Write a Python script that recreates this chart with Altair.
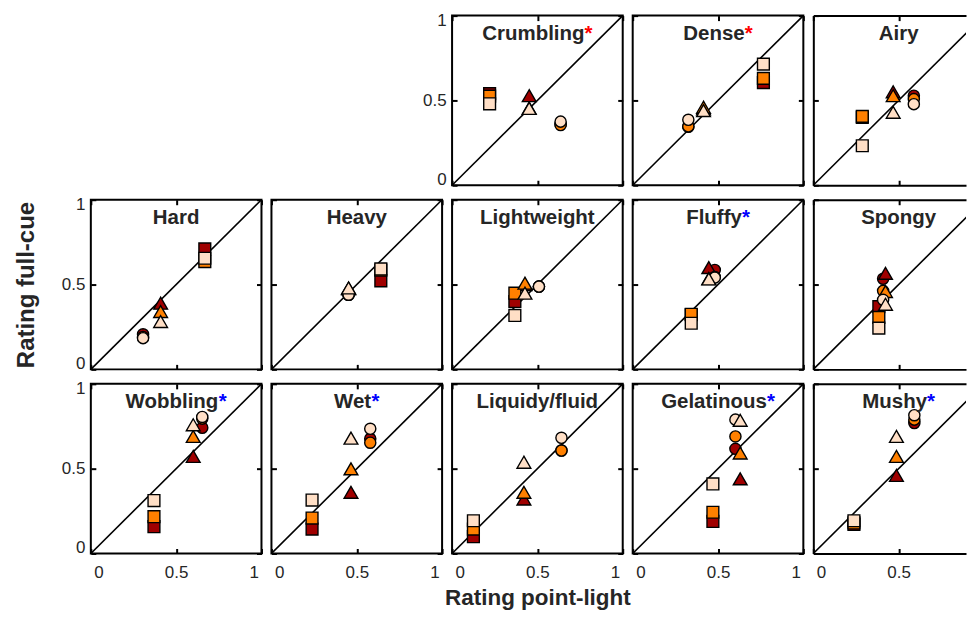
import altair as alt
import pandas as pd

# ---------------- data ----------------
panels = ["Crumbling", "Dense", "Airy", "Hard", "Heavy", "Lightweight", "Fluffy", "Spongy",
          "Wobbling", "Wet", "Liquidy/fluid", "Gelatinous", "Mushy"]
stars = ["red", "red", "", "", "", "", "blue", "", "blue", "blue", "", "blue", "blue"]

square_x = [0.22, 0.766, 0.287, 0.668, 0.641, 0.368, 0.343, 0.384, 0.37, 0.238, 0.125, 0.47, 0.238]
square_dark = [0.54, 0.605, 0.40, 0.71, 0.522, 0.40, 0.322, 0.37, 0.158, 0.144, 0.099, 0.189, 0.172]
square_orange = [0.525, 0.63, 0.406, 0.635, 0.585, 0.449, 0.325, 0.306, 0.217, 0.209, 0.144, 0.243, 0.18]
square_peach = [0.48, 0.714, 0.233, 0.655, 0.592, 0.318, 0.272, 0.243, 0.312, 0.315, 0.193, 0.41, 0.193]

circle_x = [0.636, 0.326, 0.589, 0.306, 0.452, 0.509, 0.481, 0.409, 0.653, 0.579, 0.641, 0.602, 0.592]
circle_dark = [0.36, 0.345, 0.528, 0.207, 0.44, 0.488, 0.586, 0.534, 0.741, 0.676, 0.607, 0.617, 0.769]
circle_orange = [0.355, 0.347, 0.508, 0.19, 0.44, 0.488, 0.545, 0.463, 0.795, 0.653, 0.607, 0.69, 0.789]
circle_peach = [0.375, 0.386, 0.478, 0.184, 0.44, 0.488, 0.541, 0.41, 0.805, 0.735, 0.682, 0.789, 0.815]

triangle_x = [0.452, 0.415, 0.468, 0.409, 0.452, 0.427, 0.446, 0.423, 0.60, 0.466, 0.421, 0.63, 0.487]
triangle_dark = [0.528, 0.45, 0.551, 0.39, 0.475, 0.50, 0.60, 0.566, 0.572, 0.361, 0.321, 0.44, 0.46]
triangle_orange = [0.455, 0.46, 0.528, 0.341, 0.478, 0.508, 0.535, 0.459, 0.69, 0.499, 0.361, 0.592, 0.572]
triangle_peach = [0.453, 0.44, 0.43, 0.282, 0.48, 0.449, 0.533, 0.384, 0.759, 0.68, 0.538, 0.785, 0.69]

cond_names = ["dark", "orange", "peach"]
cond_colors = ["#A00000", "#FF8000", "#FFDFC6"]
shape_names = ["square", "circle", "triangle"]
shape_symbols = ["square", "circle", "triangle-up"]
shape_sizes = [140, 125, 190]

diag_vals = [0, 1]
tick_vals = [0, 0.5, 1]
tick_vals_cut = [0, 0.5]

x_title = "Rating point-light"
y_title = "Rating full-cue"

# ---------------- tables ----------------
ys = {
    ("dark", "square"): square_dark, ("orange", "square"): square_orange, ("peach", "square"): square_peach,
    ("dark", "circle"): circle_dark, ("orange", "circle"): circle_orange, ("peach", "circle"): circle_peach,
    ("dark", "triangle"): triangle_dark, ("orange", "triangle"): triangle_orange, ("peach", "triangle"): triangle_peach,
}
xs = {"square": square_x, "circle": circle_x, "triangle": triangle_x}
rows = []
for i, p in enumerate(panels):
    for c in cond_names:
        for s in shape_names:
            rows.append({"panel": p, "cond": c, "shape": s, "px": xs[s][i], "py": ys[(c, s)][i]})
points_df = pd.DataFrame(rows)
diag_df = pd.DataFrame({"x": diag_vals, "y": diag_vals})
one_df = pd.DataFrame({"v": [0]})

W = 171
H = 170
W_CUT = 153          # last column is cut off by the page edge
FONT = "Liberation Sans"
TXT = "#262626"
TITLE_SIZE = 20.5

# Arial/Liberation bold advance widths (per 1000 em)
BW = {"A": 722, "C": 722, "D": 722, "F": 611, "G": 778, "H": 722, "L": 611, "M": 833, "S": 667, "W": 944,
      "a": 556, "b": 611, "c": 556, "d": 611, "e": 556, "f": 333, "g": 611, "h": 611, "i": 278, "k": 556,
      "l": 278, "m": 889, "n": 611, "o": 611, "p": 611, "q": 611, "r": 389, "s": 556, "t": 333, "u": 611,
      "v": 556, "w": 778, "y": 556, "/": 278, "*": 389, "-": 333}


def text_w(s, size):
    return sum(BW.get(ch, 600) for ch in s) * size / 1000.0


def tick_axis(orient, show_labels, title, values):
    kw = dict(orient=orient, values=values, format="~g", domain=False, grid=False,
              ticks=True, tickSize=5, tickWidth=2, tickColor="black", offset=-5,
              labels=show_labels, labelFont=FONT, labelFontSize=17, labelColor=TXT,
              labelFlush=True, titleFont=FONT, titleFontWeight="bold", titleColor=TXT)
    if orient in ("bottom", "top"):
        kw.update(labelPadding=11.5, labelFlushOffset=-3, titlePadding=6, titleFontSize=22.5)
    else:
        kw.update(labelPadding=6, labelFlushOffset=3, titlePadding=23, titleFontSize=24)
    kw["title"] = title if title else None
    return alt.Axis(**kw)


def frame_axis(orient):
    return alt.Axis(orient=orient, domain=True, domainColor="black", domainWidth=2, ticks=False,
                    labels=False, grid=False, title=None, offset=0)


def panel(i, show_x, show_y, xt="", yt="", cut=False):
    w = W_CUT if cut else W
    xmax = W_CUT / W if cut else 1
    xvals = tick_vals_cut if cut else tick_vals
    xs_ = alt.Scale(domain=[0, xmax], nice=False, zero=False)
    ys_ = alt.Scale(domain=[0, 1], nice=False, zero=False)
    diag = alt.Chart(diag_df).mark_line(color="black", strokeWidth=1.6, clip=True).encode(
        x=alt.X("x:Q", scale=xs_, axis=tick_axis("bottom", show_x, xt, xvals)),
        y=alt.Y("y:Q", scale=ys_, axis=tick_axis("left", show_y, yt, tick_vals)),
    )
    if cut:
        mirror = alt.Chart(diag_df).mark_line(opacity=0, clip=True).encode(
            x=alt.X("x:Q", scale=xs_, axis=tick_axis("top", False, "", xvals)),
            y=alt.Y("y:Q", scale=ys_, axis=frame_axis("left")),
        )
        frame_b = alt.Chart(diag_df).mark_line(opacity=0, clip=True).encode(
            x=alt.X("x:Q", scale=xs_, axis=frame_axis("bottom")),
            y=alt.Y("y:Q", scale=ys_, axis=None),
        )
        frame_t = alt.Chart(diag_df).mark_line(opacity=0, clip=True).encode(
            x=alt.X("x:Q", scale=xs_, axis=frame_axis("top")),
            y=alt.Y("y:Q", scale=ys_, axis=None),
        )
        layers = [diag, mirror, frame_b, frame_t]
    else:
        mirror = alt.Chart(diag_df).mark_line(opacity=0).encode(
            x=alt.X("x:Q", scale=xs_, axis=tick_axis("top", False, "", xvals)),
            y=alt.Y("y:Q", scale=ys_, axis=tick_axis("right", False, "", tick_vals)),
        )
        layers = [diag, mirror]
    pts = alt.Chart(points_df[points_df.panel == panels[i]]).mark_point(
        filled=True, opacity=1, stroke="black", strokeWidth=1.4
    ).encode(
        x=alt.X("px:Q", scale=xs_, axis=None),
        y=alt.Y("py:Q", scale=ys_, axis=None),
        shape=alt.Shape("shape:N", scale=alt.Scale(domain=shape_names, range=shape_symbols), legend=None),
        color=alt.Color("cond:N", scale=alt.Scale(domain=cond_names, range=cond_colors), legend=None),
        size=alt.Size("shape:N", scale=alt.Scale(type="ordinal", domain=shape_names, range=shape_sizes), legend=None),
    )
    layers.append(pts)
    name = panels[i]
    nw = text_w(name, TITLE_SIZE)
    sw = text_w("*", TITLE_SIZE) if stars[i] else 0
    start = W / 2 - (nw + sw) / 2
    layers.append(alt.Chart(one_df).mark_text(
        font=FONT, fontSize=TITLE_SIZE, fontWeight="bold", color=TXT, align="left", baseline="alphabetic"
    ).encode(x=alt.value(start), y=alt.value(24), text=alt.value(name)))
    if stars[i]:
        layers.append(alt.Chart(one_df).mark_text(
            font=FONT, fontSize=TITLE_SIZE, fontWeight="bold", color=stars[i], align="left", baseline="alphabetic"
        ).encode(x=alt.value(start + nw), y=alt.value(24), text=alt.value("*")))
    props = dict(width=w, height=H)
    if cut:
        props["view"] = alt.ViewBackground(stroke="transparent")
    return alt.layer(*layers).resolve_axis(x="independent", y="independent").properties(**props)


def blank():
    return alt.Chart(one_df).mark_point(opacity=0).encode(
        x=alt.X("v:Q", axis=None), y=alt.Y("v:Q", axis=None)
    ).properties(width=W, height=H, view=alt.ViewBackground(stroke="transparent"))


cells = [blank(), blank()]
for i in range(13):
    row3 = i >= 8
    first = panels[i] in ("Crumbling", "Hard", "Wobbling")
    cut = panels[i] in ("Airy", "Spongy", "Mushy")
    xt = x_title if panels[i] == "Liquidy/fluid" else ""
    yt = y_title if panels[i] == "Hard" else ""
    cells.append(panel(i, row3, first, xt, yt, cut))

chart = alt.concat(
    *cells, columns=5, spacing=alt.RowColnumber(row=14.5, column=10), bounds="flush"
).configure_view(stroke="black", strokeWidth=2).properties(
    padding={"left": 5, "top": 2, "right": 0, "bottom": 0}, background="white"
)

chart.save("out.html", embed_options={"renderer": "svg", "actions": False})
